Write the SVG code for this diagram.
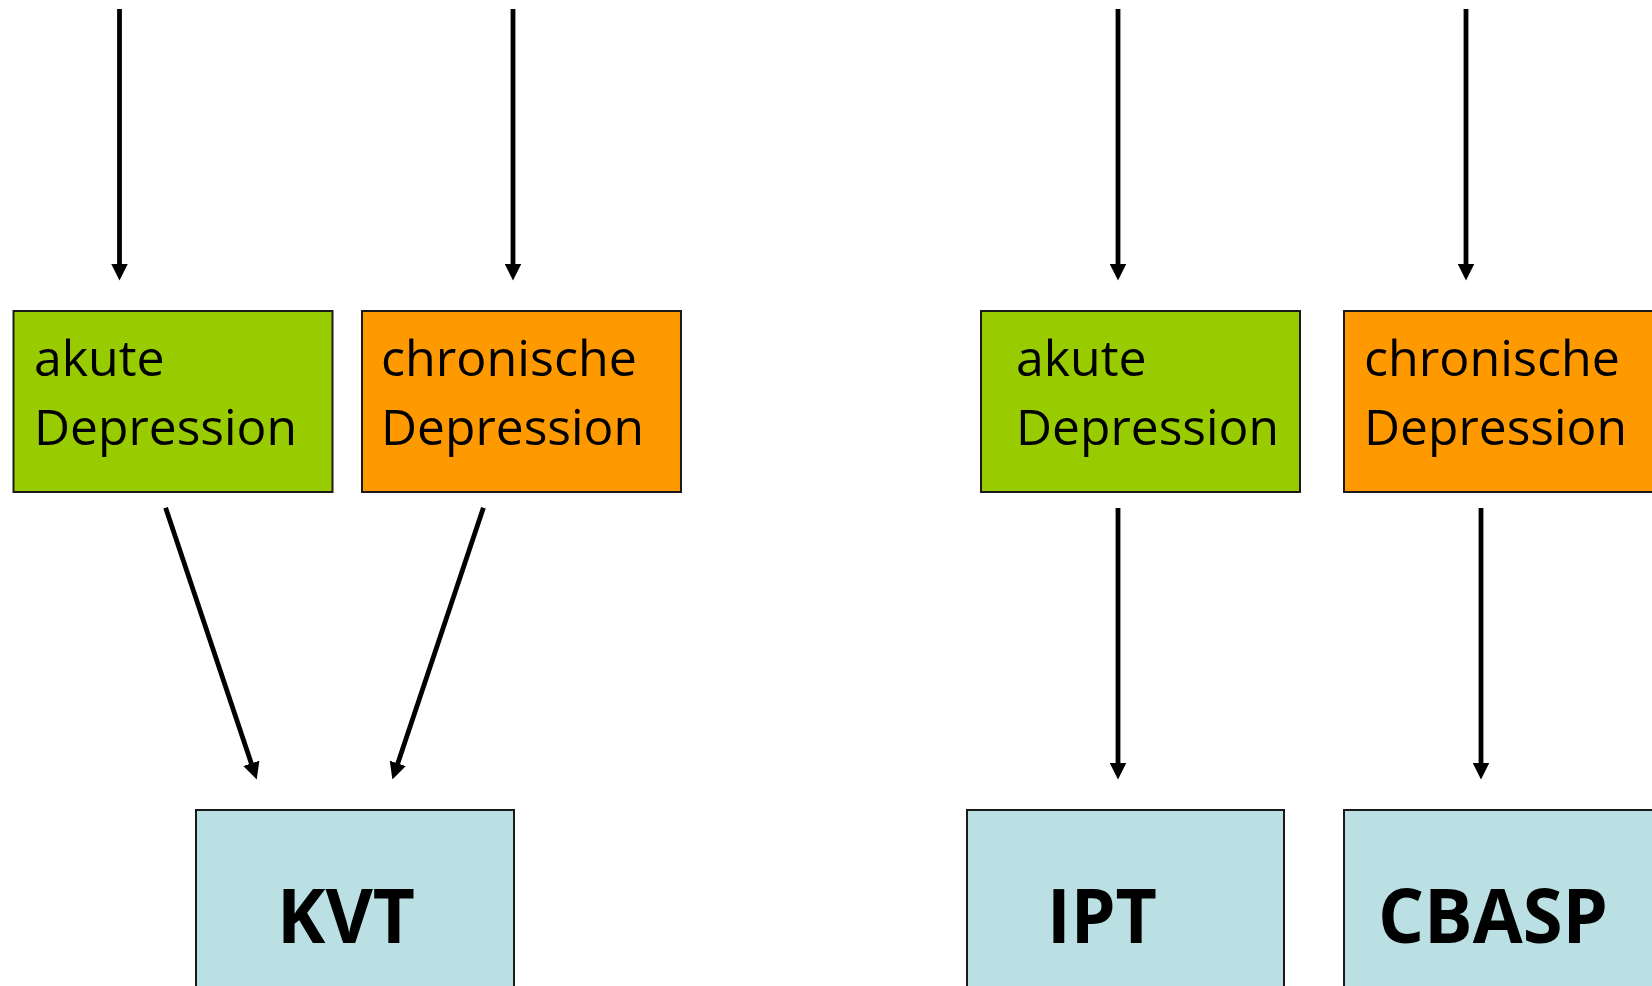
<svg xmlns="http://www.w3.org/2000/svg" width="1652" height="986" viewBox="0 0 1652 986">
<style>
.box{stroke:#1a1a1a;stroke-width:2}
.green{fill:#99CC00}
.orange{fill:#FF9900}
.blue{fill:#BBE0E3}
.lbl{font-family:"Open Sans","Liberation Sans",sans-serif;font-size:50px;fill:#000}
.big{font-family:"Open Sans","Liberation Sans",sans-serif;font-size:76px;font-weight:bold;fill:#000}
.conn{stroke:#000;stroke-width:4.8;fill:none;marker-end:url(#ah)}
</style>
<defs>
<marker id="ah" markerUnits="userSpaceOnUse" markerWidth="17" markerHeight="17" viewBox="0 0 16 16" refX="8" refY="8" orient="auto">
<path d="M0,0 L16,8 L0,16 z" fill="#000"/>
</marker>
</defs>
<rect width="1652" height="986" fill="#fff"/>
<g id="connectors">
<line class="conn" x1="119.5" y1="9" x2="119.5" y2="272"/>
<line class="conn" x1="513" y1="9" x2="513" y2="272"/>
<line class="conn" x1="1118" y1="9" x2="1118" y2="272"/>
<line class="conn" x1="1466" y1="9" x2="1466" y2="272"/>
<line class="conn" x1="165.6" y1="507.7" x2="254" y2="771.4"/>
<line class="conn" x1="483.4" y1="507.7" x2="395.1" y2="771.4"/>
<line class="conn" x1="1118" y1="508" x2="1118" y2="771"/>
<line class="conn" x1="1481" y1="508" x2="1481" y2="771"/>
</g>
<g id="akut-left">
<rect class="box green" x="13.5" y="311" width="319" height="181"/>
<text class="lbl" x="34" y="376">akute</text>
<text class="lbl" x="34" y="445" textLength="263" lengthAdjust="spacingAndGlyphs">Depression</text>
</g>
<g id="chronisch-left">
<rect class="box orange" x="362" y="311" width="319" height="181"/>
<text class="lbl" x="381" y="376" textLength="256" lengthAdjust="spacingAndGlyphs">chronische</text>
<text class="lbl" x="381" y="445" textLength="263" lengthAdjust="spacingAndGlyphs">Depression</text>
</g>
<g id="akut-right">
<rect class="box green" x="981" y="311" width="319" height="181"/>
<text class="lbl" x="1016" y="376">akute</text>
<text class="lbl" x="1016" y="445" textLength="263" lengthAdjust="spacingAndGlyphs">Depression</text>
</g>
<g id="chronisch-right">
<rect class="box orange" x="1344" y="311" width="319" height="181"/>
<text class="lbl" x="1364" y="376" textLength="256" lengthAdjust="spacingAndGlyphs">chronische</text>
<text class="lbl" x="1364" y="445" textLength="263" lengthAdjust="spacingAndGlyphs">Depression</text>
</g>
<g id="kvt">
<rect class="box blue" x="196" y="810" width="318" height="200"/>
<text class="big" x="277" y="943" textLength="138" lengthAdjust="spacingAndGlyphs">KVT</text>
</g>
<g id="ipt">
<rect class="box blue" x="967" y="810" width="317" height="200"/>
<text class="big" x="1047" y="943" textLength="110" lengthAdjust="spacingAndGlyphs">IPT</text>
</g>
<g id="cbasp">
<rect class="box blue" x="1344" y="810" width="319" height="200"/>
<text class="big" x="1378" y="943" textLength="230" lengthAdjust="spacingAndGlyphs">CBASP</text>
</g>
</svg>
